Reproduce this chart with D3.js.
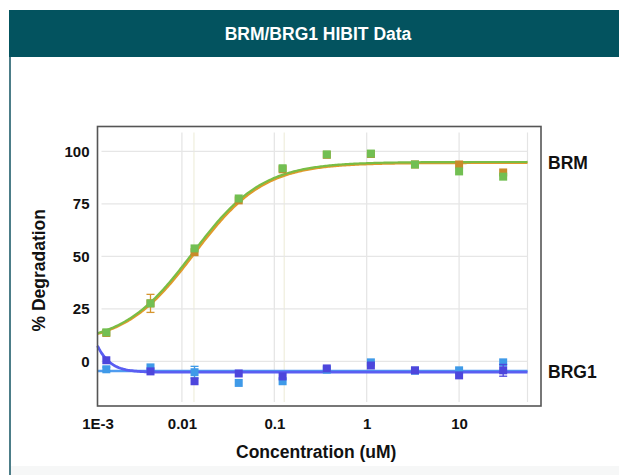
<!DOCTYPE html>
<html><head><meta charset="utf-8">
<script src="https://cdn.jsdelivr.net/npm/d3@7"></script>
<style>
html,body{margin:0;padding:0;background:#fff;}
svg{display:block;font-family:"Liberation Sans",Arial,sans-serif;}
</style></head>
<body><svg id="chart" width="619" height="475"></svg>
<script>
// ---------- data ----------
const title = "BRM/BRG1 HIBIT Data";
const xTitle = "Concentration (uM)";
const yTitle = "% Degradation";
const conc = [0.00152, 0.00457, 0.0137, 0.0412, 0.123, 0.370, 1.11, 3.33, 10, 30];
const brmGreen  = [13.8, 27.6, 53.8, 77.6, 92.0, 98.6, 99.0, 93.8, 90.5, 88.0];
const brmOrange = [13.5, 27.6, 52.0, 76.7, 91.5, 98.4, 98.8, 93.8, 93.8, 90.0];
const brmOrangeErr = [0, 4.3, 0, 0, 0, 0, 0, 0, 0, 0];
const brg1Blue   = [-3.8, -2.9, -5.2, -10.3, -9.5, -4.0, -0.5, -4.5, -4.3, -0.5];
const brg1BlueErr = [1.0, 0, 2.8, 0, 0, 0, 0, 0, 0, 0];
const brg1Purple = [0.5, -4.8, -9.5, -5.8, -7.2, -3.4, -2.0, -4.3, -6.7, -4.3];
const brg1PurpleErr = [0, 0, 0, 0, 0, 0, 0, 0, 0, 2.8];
// 4PL fits: [bottom, top, EC50, hill]
const fitBrmGreen  = [8, 95, 0.0130, 1.15];
const fitBrmOrange = [8, 94.6, 0.0136, 1.15];
const fitBrg1Purple = [-5.2, 95, 0.0007, -3.5];
const fitBrg1Blue   = [-4.6, -4.6, 1, 1];
const curveRange = [0.00122, 55];
const xDomain = [0.00122, 77];
const yDomain = [-21.3, 111.9];
const xTickVals = [0.00122, 0.01, 0.1, 1, 10];
const xTickLabels = ["1E-3", "0.01", "0.1", "1", "10"];
const yTickVals = [0, 25, 50, 75, 100];
const seriesLabels = ["BRM", "BRG1"];
const seriesLabelValues = [94.5, -5];

// ---------- layout ----------
const svg = d3.select("#chart");
const L = 97.5, R = 541, T = 126.5, B = 406;
const x = d3.scaleLog().domain(xDomain).range([L, R]);
const y = d3.scaleLinear().domain(yDomain).range([B, T]);

// panel
svg.append("rect").attr("x",0).attr("y",0).attr("width",619).attr("height",475).attr("fill","#fff");
svg.append("rect").attr("x",9).attr("y",466).attr("width",610).attr("height",9).attr("fill","#f6f7f7");
svg.append("rect").attr("x",9).attr("y",10).attr("width",610).attr("height",47).attr("fill","#03535f");
svg.append("line").attr("x1",10).attr("x2",10).attr("y1",57).attr("y2",475)
  .attr("stroke","#4c7d88").attr("stroke-width",2);
svg.append("text").attr("x",318).attr("y",40).attr("text-anchor","middle")
  .attr("fill","#fff").attr("font-weight","bold").attr("font-size",17.5).text(title);

// grid
const grid = svg.append("g");
grid.selectAll(".vg").data(xTickVals.slice(1).concat([curveRange[1]])).join("line")
  .attr("x1",d=>x(d)).attr("x2",d=>x(d)).attr("y1",T+6).attr("y2",B-4)
  .attr("stroke","#e4e4e4").attr("stroke-width",1.2);
grid.selectAll(".vg2").data([0.0135, 0.128]).join("line")
  .attr("x1",d=>x(d)).attr("x2",d=>x(d)).attr("y1",T+6).attr("y2",B-4)
  .attr("stroke","#efeedd").attr("stroke-width",1.2);
grid.selectAll(".hg").data(yTickVals).join("line")
  .attr("x1",L+4).attr("x2",x(curveRange[1])).attr("y1",d=>y(d)).attr("y2",d=>y(d))
  .attr("stroke","#e6e6e6").attr("stroke-width",1.2);

// curves
function fpl(p){ return c => p[0] + (p[1]-p[0])/(1+Math.pow(p[2]/c, p[3])); }
const cs = d3.range(0, 301).map(i => Math.exp(Math.log(curveRange[0]) + i/300*(Math.log(curveRange[1])-Math.log(curveRange[0]))));
function curve(p, color, w){
  const f = fpl(p);
  svg.append("path").datum(cs).attr("fill","none").attr("stroke",color).attr("stroke-width",w)
    .attr("d", d3.line().x(c=>x(c)).y(c=>y(f(c))));
}
curve(fitBrg1Blue, "#4f9cf0", 2.5);
curve(fitBrg1Purple, "#5a5ef2", 2.8);
curve(fitBrmOrange, "#e09a2c", 2.5);
curve(fitBrmGreen, "#79bd45", 2.2);

// points
const S = 8;
function points(vals, errs, color, errColor){
  const g = svg.append("g");
  conc.forEach((c,i)=>{
    const e = errs ? errs[i] : 0;
    if(e>0){
      g.append("line").attr("x1",x(c)).attr("x2",x(c)).attr("y1",y(vals[i]-e)).attr("y2",y(vals[i]+e))
        .attr("stroke",errColor).attr("stroke-width",1.3);
      [vals[i]-e, vals[i]+e].forEach(v=>g.append("line").attr("x1",x(c)-4).attr("x2",x(c)+4)
        .attr("y1",y(v)).attr("y2",y(v)).attr("stroke",errColor).attr("stroke-width",1.3));
    }
  });
  g.selectAll("rect").data(vals).join("rect")
    .attr("x",(d,i)=>x(conc[i])-S/2).attr("y",d=>y(d)-S/2).attr("width",S).attr("height",S)
    .attr("fill",color);
}
points(brmOrange, brmOrangeErr, "#c98a2a", "#d6952e");
points(brmGreen, null, "#72bf52");
points(brg1Blue, brg1BlueErr, "#3f9ae8", "#3f9ae8");
points(brg1Purple, brg1PurpleErr, "#4d46dc", "#4d46dc");

// frame
svg.append("rect").attr("x",L).attr("y",T).attr("width",R-L).attr("height",B-T)
  .attr("fill","none").attr("stroke","#555").attr("stroke-width",1.6);

// axes labels
const ax = d3.axisBottom(x).tickValues(xTickVals).tickSize(0).tickPadding(12)
  .tickFormat((d,i)=>xTickLabels[i]);
const gx = svg.append("g").attr("transform",`translate(0,${B})`).call(ax);
gx.select(".domain").remove();
gx.selectAll("text").attr("font-size",15).attr("font-weight","bold").attr("fill","#111")
  .attr("font-family","'Liberation Sans',Arial,sans-serif");
const ay = d3.axisLeft(y).tickValues(yTickVals).tickSize(0).tickPadding(8);
const gy = svg.append("g").attr("transform",`translate(${L},0)`).call(ay);
gy.select(".domain").remove();
gy.selectAll("text").attr("font-size",15).attr("font-weight","bold").attr("fill","#111")
  .attr("font-family","'Liberation Sans',Arial,sans-serif");

svg.append("text").attr("x",(L+R)/2-3).attr("y",458).attr("text-anchor","middle")
  .attr("font-size",17.5).attr("font-weight","bold").attr("fill","#111").text(xTitle);
svg.append("text").attr("transform",`translate(45,${(T+B)/2+4}) rotate(-90)`).attr("text-anchor","middle")
  .attr("font-size",17.5).attr("font-weight","bold").attr("fill","#111").text(yTitle);

svg.selectAll(".slab").data(seriesLabels).join("text")
  .attr("x",548).attr("y",(d,i)=>y(seriesLabelValues[i])+6)
  .attr("font-size",17.5).attr("font-weight","bold").attr("fill","#111").text(d=>d);
</script></body></html>
